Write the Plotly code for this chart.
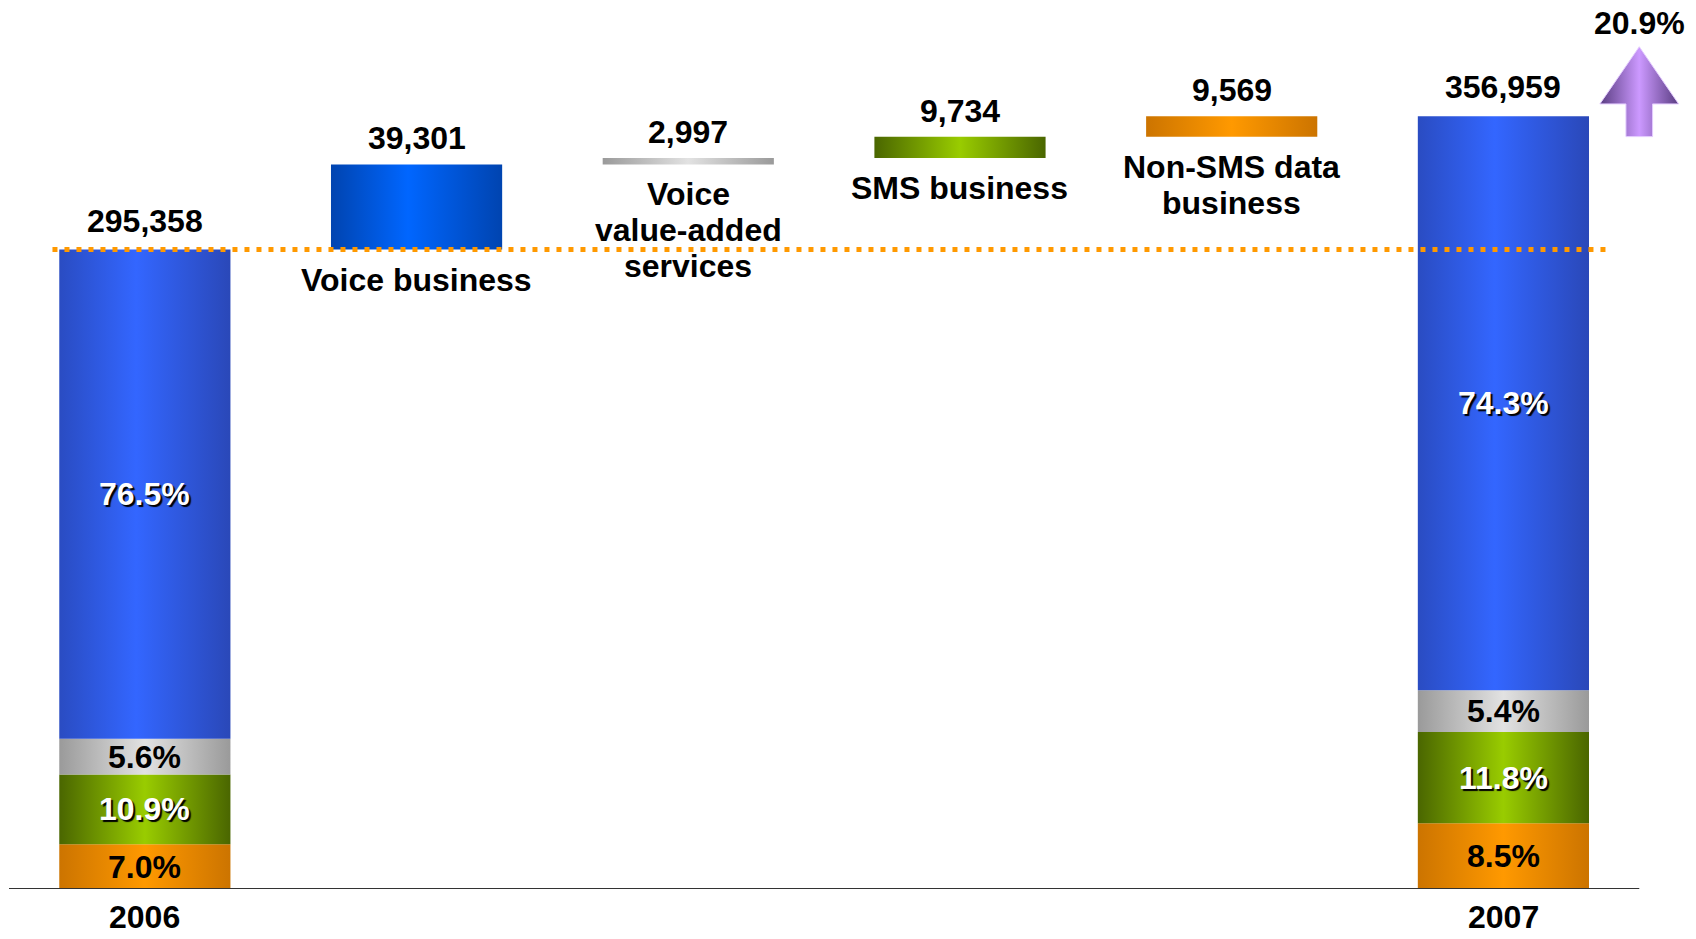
import plotly.graph_objects as go

# ---- data -------------------------------------------------------------
years = ["2006", "2007"]
revenue_2006 = 295358
revenue_2007 = 356959
growth_pct = 20.9

driver_labels = [
    ["Voice business"],
    ["Voice", "value-added", "services"],
    ["SMS business"],
    ["Non-SMS data", "business"],
]
driver_values = [39301, 2997, 9734, 9569]

# revenue mix, bottom to top: non-SMS data, SMS, voice VAS, voice
mix_segments = ["Non-SMS data", "SMS", "Voice value-added", "Voice"]
mix_2006 = [7.0, 10.9, 5.6, 76.5]
mix_2007 = [8.5, 11.8, 5.4, 74.3]

# ---- styling ----------------------------------------------------------
FONT = "Liberation Sans, Arial, sans-serif"
FS = 32
BAR_W = 0.63

grad = {
    "Voice": [[0, "#2a4cc2"], [0.45, "#3366ff"], [1, "#2a48b8"]],
    "Voice value-added": [[0, "#9a9a9a"], [0.5, "#e2e2e2"], [1, "#9a9a9a"]],
    "SMS": [[0, "#4a6600"], [0.5, "#99cc00"], [1, "#4a6600"]],
    "Non-SMS data": [[0, "#cc7400"], [0.5, "#ff9900"], [1, "#cc7400"]],
}
driver_grad = [
    [[0, "#0044b0"], [0.45, "#0066ff"], [1, "#0044b0"]],
    grad["Voice value-added"],
    grad["SMS"],
    grad["Non-SMS data"],
]
label_style = {
    "Voice": dict(color="white", shadow="2px 2px 1px #000"),
    "Voice value-added": dict(color="black"),
    "SMS": dict(color="white", shadow="2px 2px 1px #000"),
    "Non-SMS data": dict(color="black"),
}

fig = go.Figure()


def rect(xc, y0, y1, colorscale):
    x0, x1 = xc - BAR_W / 2, xc + BAR_W / 2
    fig.add_trace(go.Scatter(
        x=[x0, x1, x1, x0, x0], y=[y0, y0, y1, y1, y0],
        mode="lines", line=dict(width=0), fill="toself",
        fillgradient=dict(type="horizontal", colorscale=colorscale),
        hoverinfo="skip", showlegend=False,
    ))


annotations = []


def text(x, y, s, yshift=0, **font):
    f = dict(family=FONT, size=FS, weight="bold", color="black")
    f.update(font)
    annotations.append(dict(
        x=x, y=y, xref="x", yref="y", text=s, showarrow=False,
        xanchor="center", yanchor="middle", yshift=yshift, font=f,
    ))


# stacked totals for both years
for xpos, total, mix in [(0, revenue_2006, mix_2006), (5, revenue_2007, mix_2007)]:
    base = 0.0
    for seg, pct in zip(mix_segments, mix):
        h = total * pct / 100.0
        rect(xpos, base, base + h, grad[seg])
        text(xpos, base + h / 2, f"{pct:.1f}%", **label_style[seg])
        base += h
    text(xpos, total, f"{total:,}", yshift=29)

# floating bridge bars
level = revenue_2006
for i, (val, lines) in enumerate(zip(driver_values, driver_labels)):
    xpos = i + 1
    rect(xpos, level, level + val, driver_grad[i])
    text(xpos, level + val, f"{val:,}", yshift=26)
    for j, ln in enumerate(lines):
        text(xpos, level, ln, yshift=-(30 + 36 * j))
    level += val

# year labels under the baseline
for xpos, yr in [(0, years[0]), (5, years[1])]:
    text(xpos, 0, yr, yshift=-28)

# growth arrow to the right of the 2007 bar
ax = 5.5
head_hw, shaft_hw = 0.145, 0.049
tip, head_base, shaft_bot = 389000, 362600, 347500
fig.add_trace(go.Scatter(
    x=[ax - shaft_hw, ax - shaft_hw, ax - head_hw, ax, ax + head_hw,
       ax + shaft_hw, ax + shaft_hw, ax - shaft_hw],
    y=[shaft_bot, head_base, head_base, tip, head_base, head_base,
       shaft_bot, shaft_bot],
    mode="lines", line=dict(width=1, color="#e4ccff"), fill="toself",
    fillgradient=dict(type="horizontal",
                      colorscale=[[0, "#5a3d82"], [0.5, "#cc99ff"], [1, "#5a3d82"]]),
    hoverinfo="skip", showlegend=False,
))
text(ax, tip, f"{growth_pct:.1f}%", yshift=24)

shapes = [
    # baseline
    dict(type="line", xref="x", yref="y", x0=-0.5, x1=5.5, y0=0, y1=0,
         line=dict(color="#333333", width=2)),
    # 2006 revenue reference level
    dict(type="line", xref="x", yref="y", x0=-0.34, x1=5.38,
         y0=revenue_2006, y1=revenue_2006,
         line=dict(color="#ff9900", width=5, dash="5px,7px"), layer="above"),
]

fig.update_layout(
    width=1696, height=939, autosize=False,
    margin=dict(l=9, r=10, t=0, b=50),
    paper_bgcolor="white", plot_bgcolor="white",
    xaxis=dict(range=[-0.5, 5.672], visible=False, fixedrange=True),
    yaxis=dict(range=[0, 410600], visible=False, fixedrange=True),
    annotations=annotations, shapes=shapes, showlegend=False,
)

fig.write_html("out.html")
